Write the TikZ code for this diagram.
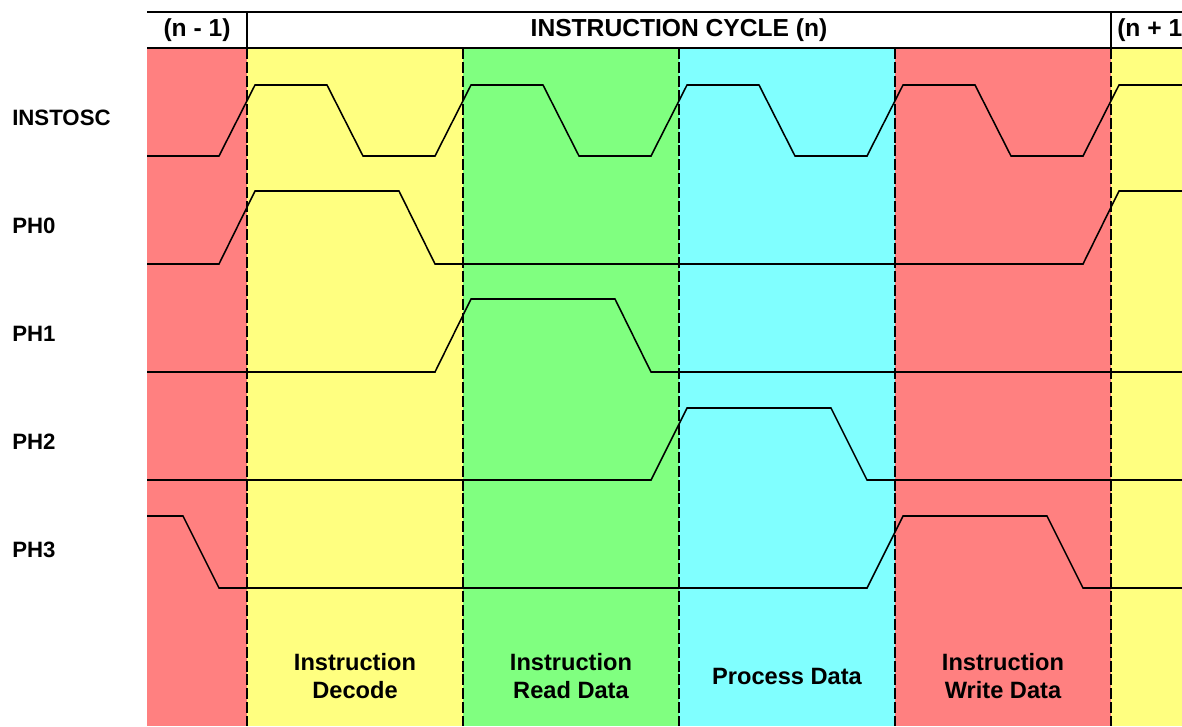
\documentclass[tikz,border=0pt]{standalone}
\usepackage{fontspec}
\setmainfont{Liberation Sans}
\usetikzlibrary{positioning}
\definecolor{phred}{HTML}{FF8080}
\definecolor{phyellow}{HTML}{FFFF80}
\definecolor{phgreen}{HTML}{80FF80}
\definecolor{phcyan}{HTML}{80FFFF}

\begin{document}
\begin{tikzpicture}[
    x=0.025cm,
    y=-0.025cm,
    font=\fontsize{17.5}{20}\selectfont\bfseries,
    wave/.style={
		draw=black,
		line width=1.1pt,
		line join=miter
	},
	border/.style={
		draw=black,
		dash pattern=on 7.8pt off 2.1pt,
		line width=1.4pt
	},
	header/.style={
		draw=black,
		line width=1.5pt
	},
	signame/.style={
		anchor=west,
		inner sep=0pt,
		font=\fontsize{15.8}{18}\selectfont\bfseries
	},
	phase/.style={
		align=center,
		inner sep=0pt,
		font=\fontsize{16.8}{19.9}\selectfont\bfseries
	}
  ]

 \useasboundingbox (0,0) rectangle (1182,726);

\begin{scope}
 \clip (0,0) rectangle (1182,726);

% // The phases
 \fill [phred]    (147,48) rectangle (247,726);
 \fill [phyellow] (247,48) rectangle (463,726);
 \fill [phgreen]  (463,48) rectangle (679,726);
 \fill [phcyan]   (679,48) rectangle (895,726);
 \fill [phred]    (895,48) rectangle (1111,726);
 \fill [phyellow] (1111,48) rectangle (1182,726);

% // The header
 \draw [header] (147,12) -- (1182,12);
 \draw [header] (147,48) -- (1182,48);
 \draw [header] (247,12) -- (247,48);
 \draw [header] (1111,12) -- (1111,48);

 \node (prev) at (197,30) {(n - 1)};
 \node (cycle) at (679,30) {INSTRUCTION CYCLE (n)};
 \node [anchor=west, inner sep=0pt] (next) at (1117,30) {(n + 1)};

% // Phase borders
 \draw [border] (247,48) -- (247,726);
 \draw [border] (463,48) -- (463,726);
 \draw [border] (679,48) -- (679,726);
 \draw [border] (895,48) -- (895,726);
 \draw [border] (1111,48) -- (1111,726);

% // The signals
 \draw [wave] (147,156) -- (219,156) -- (255,85) -- (327,85) -- (363,156)
   -- (435,156) -- (471,85) -- (543,85) -- (579,156)
   -- (651,156) -- (687,85) -- (759,85) -- (795,156)
   -- (867,156) -- (903,85) -- (975,85) -- (1011,156)
   -- (1083,156) -- (1119,85) -- (1190,85);
 \draw [wave] (147,264) -- (219,264) -- (255,191) -- (399,191) -- (435,264)
   -- (1083,264) -- (1119,191) -- (1190,191);
 \draw [wave] (147,372) -- (435,372) -- (471,299) -- (615,299) -- (651,372)
   -- (1190,372);
 \draw [wave] (147,480) -- (651,480) -- (687,408) -- (831,408) -- (867,480)
   -- (1190,480);
 \draw [wave] (147,516) -- (183,516) -- (219,588) -- (867,588) -- (903,516)
   -- (1047,516) -- (1083,588) -- (1190,588);
\end{scope}

% // Signal names
 \node [signame] (instosc) at (12,118) {INSTOSC};
 \node [signame] (ph0) at (12,226) {PH0};
 \node [signame] (ph1) at (12,334) {PH1};
 \node [signame] (ph2) at (12,442) {PH2};
 \node [signame] (ph3) at (12,550) {PH3};

% // Phase names
 \node [phase] (decode) at (355,676) {Instruction\\Decode};
 \node [phase] (read) at (571,676) {Instruction\\Read Data};
 \node [phase] (process) at (787,676) {Process Data};
 \node [phase] (write) at (1003,676) {Instruction\\Write Data};

\end{tikzpicture}
\end{document}
